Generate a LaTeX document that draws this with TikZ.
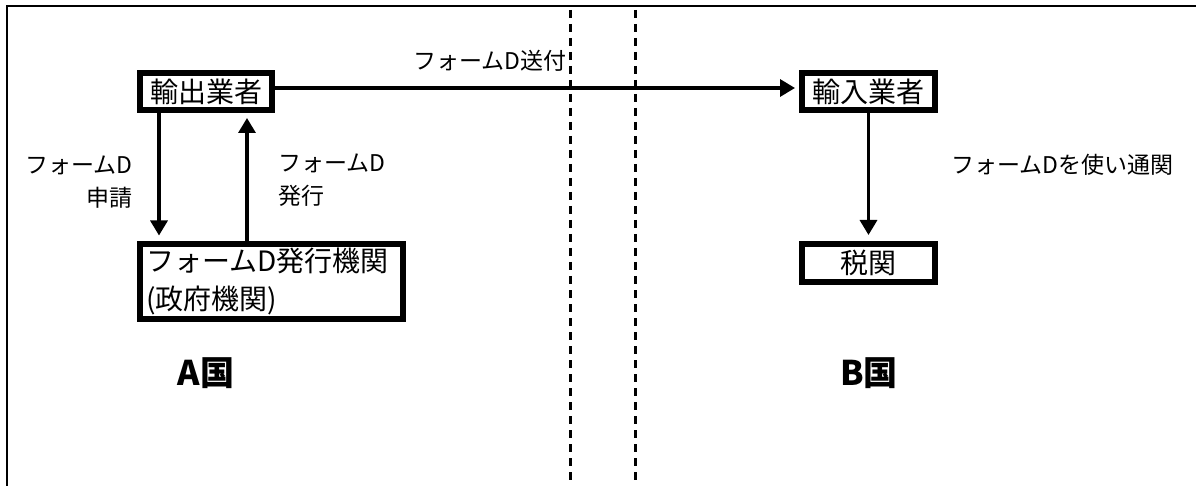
\documentclass[tikz,border=0pt]{standalone}
\usepackage{fontspec}
\setmainfont{Noto Sans CJK JP}
\usepackage{tikz}
\usetikzlibrary{positioning}
\usetikzlibrary{arrows.meta}
\usetikzlibrary{calc}
\tikzstyle{actor}=[draw,line width=6pt,inner sep=0pt,font=\fontsize{28pt}{38pt}\selectfont]
\tikzstyle{edge} = [draw,line width=3.3pt,-{Triangle[length=15pt,width=17pt]}]
\tikzstyle{frame} = [draw,line width=2.8pt]
\tikzstyle{divider} = [draw,line width=3pt,dash pattern=on 8pt off 6pt]
\tikzstyle{flowtext} = [inner sep=0pt,font=\fontsize{23pt}{33pt}\selectfont]
\tikzstyle{country} = [inner sep=0pt,font=\fontsize{34pt}{40pt}\selectfont\bfseries]

\begin{document}
\begin{tikzpicture}[x=1pt,y=-1pt]

    \useasboundingbox (0,0) rectangle (1196,486);

    % outer frame and border between the two countries
    \path[frame] (7,486) -- (7,6) -- (1196,6);
    \foreach \x in {570,635}
        \path[divider] (\x,10) -- (\x,486);

    % country A
    \node[actor,minimum width=132pt,minimum height=37pt] (exporter) at (206,91.5) {輸出業者};
    \node[actor,minimum height=75pt,text width=251pt,inner xsep=6pt,align=left] (agency) at (271.5,281.5) {フォームD発行機関\\(政府機関)};
    \node[country] (countryA) at (206,373) {A国};

    % country B
    \node[actor,minimum width=133pt,minimum height=37pt] (importer) at (868.5,91.5) {輸入業者};
    \node[actor,minimum width=133pt,minimum height=38pt] (customs) at (868.5,263) {税関};
    \node[country] (countryB) at (869,373) {B国};

    \coordinate (askTop) at ([xshift=-47pt]exporter.south);
    \coordinate (issueTop) at ([xshift=41pt]exporter.south);

    \path[edge,shorten >=5.5pt] (askTop) -- node[flowtext,anchor=east,xshift=-25pt,yshift=-5pt,align=right] {フォームD\\申請} (askTop |- agency.north);
    \path[edge,shorten >=5pt] (issueTop |- agency.north) -- node[flowtext,anchor=west,xshift=30pt,yshift=-3pt,align=left] {フォームD\\発行} (issueTop);
    \path[edge,shorten >=4pt] ([yshift=3.5pt]exporter.east) -- node[flowtext,pos=0.41,yshift=27pt] {フォームD送付} ([yshift=3.5pt]importer.west);
    \path[edge,shorten >=6pt] (importer) -- node[flowtext,anchor=west,xshift=81pt,yshift=12pt] {フォームDを使い通関} (customs);

\end{tikzpicture}
\end{document}
